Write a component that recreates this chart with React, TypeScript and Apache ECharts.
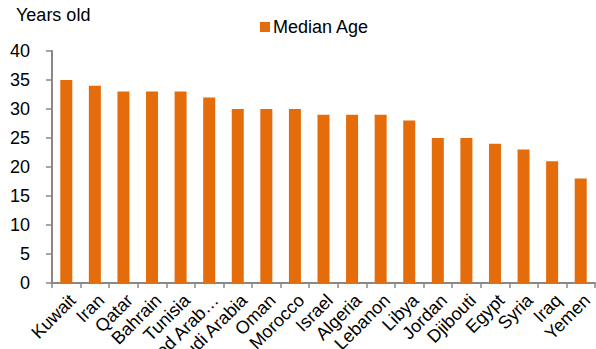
import React, { useEffect, useRef } from "react";
import * as echarts from "echarts";

const countries = [
  "Kuwait", "Iran", "Qatar", "Bahrain", "Tunisia", "United Arab…", "Saudi Arabia",
  "Oman", "Morocco", "Israel", "Algeria", "Lebanon", "Libya", "Jordan",
  "Djibouti", "Egypt", "Syria", "Iraq", "Yemen",
];
const medianAge = [35, 34, 33, 33, 33, 32, 30, 30, 30, 29, 29, 29, 28, 25, 25, 24, 23, 21, 18];
const yTicks = { min: 0, max: 40, interval: 5 };

const FONT = "Arial, 'Liberation Sans', sans-serif";
const ORANGE = "#E46C0A";
const AXIS_GRAY = "#888888";

export default function App() {
  const ref = useRef<HTMLDivElement>(null);

  useEffect(() => {
    if (!ref.current) return;
    const chart = echarts.init(ref.current, undefined, { renderer: "svg" });
    chart.setOption({
      animation: false,
      textStyle: { fontFamily: FONT },
      grid: {
        left: 52,
        right: 1,
        top: 51,
        bottom: 66,
        containLabel: false,
        outerBoundsMode: "none",
      },
      graphic: [
        {
          type: "text",
          left: 16,
          top: 6,
          style: { text: "Years old", font: `18px ${FONT}`, fill: "#000" },
        },
      ],
      legend: {
        left: 255,
        top: 13,
        itemWidth: 10,
        itemHeight: 10,
        icon: "rect",
        textStyle: { fontSize: 18, color: "#000", fontFamily: FONT, padding: [0, 0, 0, -2] },
        data: ["Median Age"],
      },
      xAxis: {
        type: "category",
        data: countries,
        boundaryGap: true,
        axisLine: { lineStyle: { color: AXIS_GRAY, width: 2 } },
        axisTick: { show: true, length: 5, lineStyle: { color: AXIS_GRAY, width: 1.5 } },
        axisLabel: {
          interval: 0,
          rotate: 45,
          fontSize: 18,
          color: "#000",
          fontFamily: FONT,
          margin: 8,
          verticalAlign: "top",
        },
      },
      yAxis: {
        type: "value",
        min: yTicks.min,
        max: yTicks.max,
        interval: yTicks.interval,
        splitLine: { show: false },
        axisLine: { show: true, lineStyle: { color: AXIS_GRAY, width: 2 } },
        axisTick: { show: true, length: 6, lineStyle: { color: AXIS_GRAY, width: 1.5 } },
        axisLabel: { fontSize: 18, color: "#000", fontFamily: FONT, margin: 22 },
      },
      series: [
        {
          name: "Median Age",
          type: "bar",
          data: medianAge,
          barWidth: "42%",
          itemStyle: { color: ORANGE },
        },
      ],
    });
    return () => chart.dispose();
  }, []);

  return (
    <div
      ref={ref}
      style={{ position: "fixed", left: 0, top: 0, width: 596, height: 349, background: "#fff" }}
    />
  );
}
